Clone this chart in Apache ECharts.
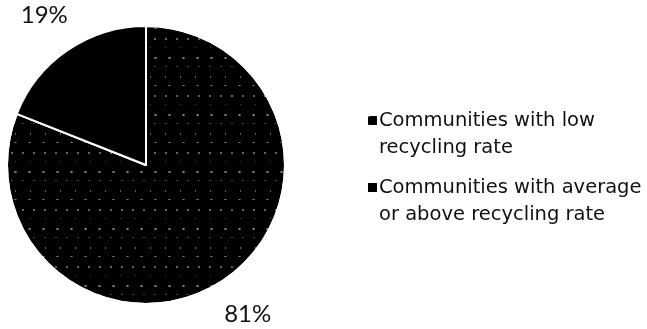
<!DOCTYPE html>
<html>
<head>
<meta charset="utf-8">
<script src="https://cdn.jsdelivr.net/npm/echarts@6/dist/echarts.min.js"></script>
<style>html,body{margin:0;padding:0;background:#fff}#c{width:647px;height:329px}</style>
</head>
<body>
<div id="c"></div>
<script>
var categories = ['Communities with low\nrecycling rate', 'Communities with average\nor above recycling rate'];
var values = [81, 19];

var chart = echarts.init(document.getElementById('c'), null, {renderer: 'canvas'});
var mainData = categories.map(function (n, i) { return {name: n, value: values[i]}; });
var center = [146, 165];
chart.setOption({
  backgroundColor: '#ffffff',
  animation: false,
  legend: {
    orient: 'vertical',
    left: 366,
    top: 80,
    padding: 0,
    itemWidth: 11,
    itemHeight: 11,
    itemGap: -14,
    icon: 'rect',
    data: categories,
    formatter: function (name) { return '\n' + name; },
    textStyle: {fontFamily: 'DejaVu Sans', fontSize: 19.5, color: '#111', lineHeight: 27, padding: [0, 0, 0, -4]}
  },
  series: [
    {
      type: 'pie',
      center: center,
      radius: 139,
      startAngle: 90,
      clockwise: true,
      silent: true,
      label: {show: false},
      labelLine: {show: false},
      itemStyle: {color: '#000', borderColor: '#fff', borderWidth: 2},
      data: mainData.map(function (d, i) {
        var o = {name: d.name, value: d.value};
        if (i === 0) {
          o.itemStyle = {color: '#000', decal: {symbol: 'rect', symbolSize: 0.7, color: 'rgba(255,255,255,0.75)', dashArrayX: [[2, 9], [1, 14], [3, 11]], dashArrayY: [2, 7, 1, 9], rotation: 0}};
        }
        return o;
      })
    },
    {
      type: 'pie',
      center: center,
      radius: [158, 198],
      startAngle: 90,
      clockwise: true,
      silent: true,
      itemStyle: {color: 'rgba(0,0,0,0)'},
      label: {show: true, position: 'inside', formatter: '{c}%', fontFamily: 'Lato', fontSize: 24, color: '#111'},
      labelLine: {show: false},
      data: mainData
    }
  ]
});
</script>
</body>
</html>
